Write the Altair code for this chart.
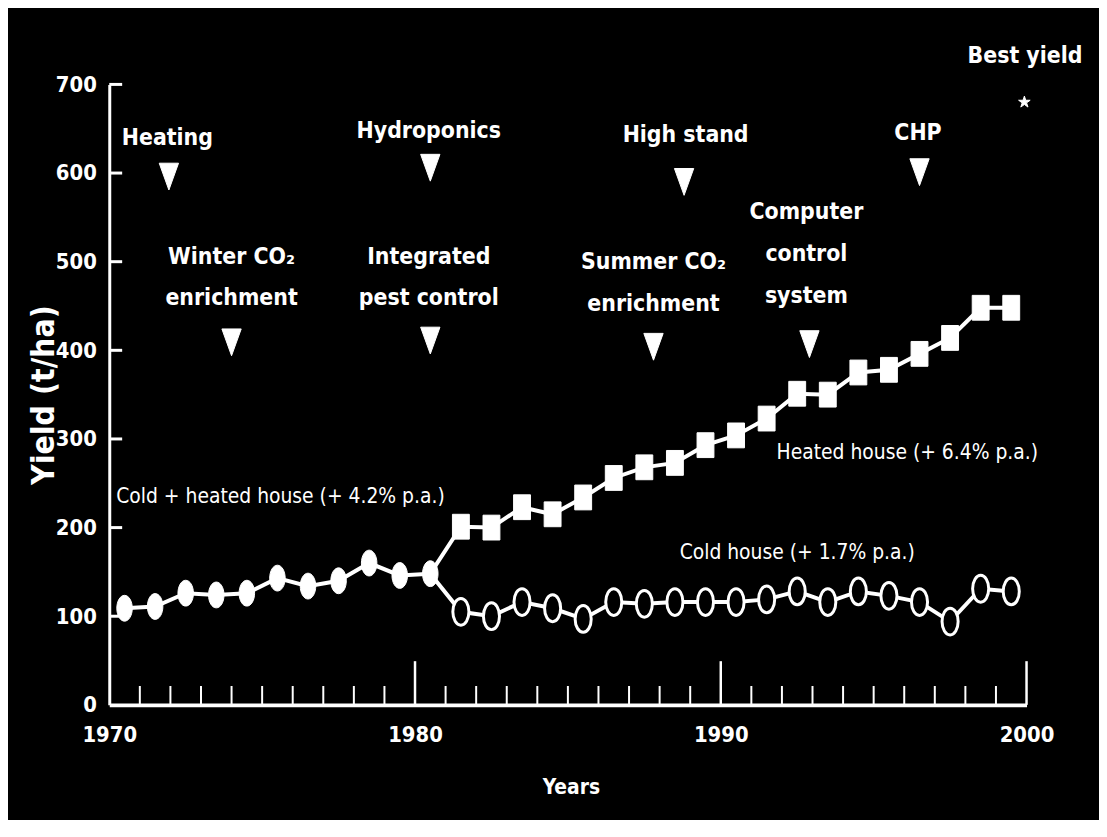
import altair as alt
import pandas as pd

# ---------------- data ----------------
early_years = [1970, 1971, 1972, 1973, 1974, 1975, 1976, 1977, 1978, 1979, 1980]
early_yield = [109, 111, 126, 124, 126, 143, 134, 140, 160, 146, 148]

late_years = [1981, 1982, 1983, 1984, 1985, 1986, 1987, 1988, 1989, 1990,
              1991, 1992, 1993, 1994, 1995, 1996, 1997, 1998, 1999]
heated_yield = [201, 200, 223, 215, 234, 256, 268, 273, 293, 304,
                323, 351, 350, 375, 378, 396, 414, 448, 448]
cold_yield = [105, 100, 116, 109, 97, 116, 114, 116, 116, 116,
              119, 128, 116, 128, 123, 116, 94, 131, 128]

event_text = ["Heating", "Winter CO\u2082\nenrichment", "Hydroponics",
              "Integrated\npest control", "High stand",
              "Summer CO\u2082\nenrichment", "Computer\ncontrol\nsystem", "CHP"]
event_label_x = [1971.9, 1974.0, 1980.45, 1980.45, 1988.85, 1987.8, 1992.8, 1996.45]
event_label_y = [652, 518, 660, 518, 655, 512, 568, 657]
event_marker_x = [1971.95, 1974.0, 1980.5, 1980.5, 1988.8, 1987.8, 1992.9, 1996.5]
event_marker_y = [596, 409, 606, 411, 590, 404, 407, 601]

series_text = ["Cold + heated house (+ 4.2% p.a.)", "Heated house (+ 6.4% p.a.)",
               "Cold house (+ 1.7% p.a.)"]
series_label_x = [1975.6, 1996.1, 1992.5]
series_label_y = [235, 284, 171]

best_text = ["Best yield"]
best_label_x = [1999.95]
best_label_y = [732]
best_marker_x = [1999.93]
best_marker_y = [680]

x_tick_labels = [1970, 1980, 1990, 2000]
y_tick_labels = [0, 100, 200, 300, 400, 500, 600, 700]
minor_tick_years = [y for y in range(1971, 2000) if y % 10 != 0]
major_tick_years = [1980, 1990, 2000]
y_tick_values = [100, 200, 300, 400, 500, 600, 700]

# ---------------- tables ----------------
early_df = pd.DataFrame({"year": early_years, "yield": early_yield})
heated_df = pd.DataFrame({"year": late_years, "yield": heated_yield})
cold_df = pd.DataFrame({"year": late_years, "yield": cold_yield})
for d in (early_df, heated_df, cold_df):
    d["x"] = d["year"] + 0.5  # yields plotted at mid-season

last_early = early_df.tail(1)
lines_df = pd.concat([
    early_df.assign(series="early"),
    pd.concat([last_early, heated_df]).assign(series="heated"),
    pd.concat([last_early, cold_df]).assign(series="cold"),
], ignore_index=True)

events_df = pd.DataFrame({"text": event_text, "x": event_label_x, "y": event_label_y})
markers_df = pd.DataFrame({"x": event_marker_x, "y": event_marker_y})
series_df = pd.DataFrame({"text": series_text, "x": series_label_x, "y": series_label_y})
best_lbl_df = pd.DataFrame({"text": best_text, "x": best_label_x, "y": best_label_y})
best_pt_df = pd.DataFrame({"x": best_marker_x, "y": best_marker_y})
minor_df = pd.DataFrame({"x": minor_tick_years})
major_df = pd.DataFrame({"x": major_tick_years})
ytick_df = pd.DataFrame({"y": y_tick_values})

# ---------------- style ----------------
W, H = 924, 625
FONT = "Liberation Sans Narrow, DejaVu Sans Condensed, Liberation Sans, sans-serif"
WHITE = "#ffffff"
ELLIPSE = "M0,-1 A0.6,1 0 1,1 0,1 A0.6,1 0 1,1 0,-1 Z"
RECT = "M-0.68,-1 L0.68,-1 L0.68,1 L-0.68,1 Z"
TRI = "M-0.72,-1 L0.72,-1 L0,1 Z"
STAR = ("M0,-1 L0.22,-0.31 L0.95,-0.31 L0.36,0.12 L0.59,0.81 L0,0.38 "
        "L-0.59,0.81 L-0.36,0.12 L-0.95,-0.31 L-0.22,-0.31 Z")

xs = alt.Scale(domain=[1970, 2000], nice=False, zero=False)
ys = alt.Scale(domain=[0, 700], nice=False, zero=False)

x_axis = alt.Axis(values=x_tick_labels, format="d", title="Years", ticks=False,
                  grid=False, domainColor=WHITE, domainWidth=4, labelColor=WHITE,
                  labelFont=FONT, labelFontSize=22, labelFontWeight="bold",
                  labelPadding=20, labelFlush=False, labelOverlap=False,
                  titleColor=WHITE, titleFont=FONT, titleFontSize=21,
                  titleFontWeight="bold", titleX=W / 2 + 3, titleY=83,
                  titleBaseline="middle")
y_axis = alt.Axis(values=y_tick_labels, format="d", title="Yield (t/ha)", ticks=False,
                  grid=False, domainColor=WHITE, domainWidth=3, labelColor=WHITE,
                  labelFont=FONT, labelFontSize=22, labelFontWeight="bold",
                  labelPadding=13, labelOverlap=False, labelFlush=False,
                  titleColor=WHITE, titleFont=FONT,
                  titleFontSize=32, titleFontWeight="bold", titleX=-66,
                  titleY=H / 2, titleAngle=270, titleAlign="center",
                  titleBaseline="middle")


def X(f):
    return alt.X(f, type="quantitative", scale=xs, axis=x_axis)


def Y(f):
    return alt.Y(f, type="quantitative", scale=ys, axis=y_axis)


lines = alt.Chart(lines_df).mark_line(color=WHITE, strokeWidth=4).encode(
    x=X("x"), y=Y("yield"), detail="series:N", order="x:Q",
)

early_pts = alt.Chart(early_df).mark_point(
    shape=ELLIPSE, filled=True, fill=WHITE, stroke=WHITE, strokeWidth=1,
    size=676, opacity=1).encode(x=X("x"), y=Y("yield"))
heated_pts = alt.Chart(heated_df).mark_point(
    shape=RECT, filled=True, fill=WHITE, stroke=WHITE, strokeWidth=1,
    size=625, opacity=1).encode(x=X("x"), y=Y("yield"))
cold_pts = alt.Chart(cold_df).mark_point(
    shape=ELLIPSE, filled=True, fill="#000000", stroke=WHITE, strokeWidth=3,
    size=729, opacity=1).encode(x=X("x"), y=Y("yield"))

minor_ticks = alt.Chart(minor_df).mark_rule(color=WHITE, strokeWidth=2).encode(
    x=X("x"), y=alt.value(H), y2=alt.value(H - 19))
major_ticks = alt.Chart(major_df).mark_rule(color=WHITE, strokeWidth=2.5).encode(
    x=X("x"), y=alt.value(H), y2=alt.value(H - 44))
y_ticks = alt.Chart(ytick_df).mark_rule(color=WHITE, strokeWidth=3).encode(
    y=Y("y"), x=alt.value(0), x2=alt.value(13))

event_tri = alt.Chart(markers_df).mark_point(
    shape=TRI, filled=True, fill=WHITE, stroke=WHITE, strokeWidth=1,
    size=729, opacity=1).encode(x=X("x"), y=Y("y"))
event_lbl = alt.Chart(events_df).mark_text(
    color=WHITE, font=FONT, fontSize=23, fontWeight="bold", align="center",
    baseline="top", lineBreak="\n", lineHeight=42).encode(
    x=X("x"), y=Y("y"), text="text:N")

series_lbl = alt.Chart(series_df).mark_text(
    color=WHITE, font=FONT, fontSize=21, fontWeight="normal", align="center",
    baseline="middle").encode(x=X("x"), y=Y("y"), text="text:N")

best_lbl = alt.Chart(best_lbl_df).mark_text(
    color=WHITE, font=FONT, fontSize=23, fontWeight="bold", align="center",
    baseline="middle").encode(x=X("x"), y=Y("y"), text="text:N")
best_star = alt.Chart(best_pt_df).mark_point(
    shape=STAR, filled=True, fill=WHITE, stroke=WHITE, strokeWidth=1,
    size=150, opacity=1).encode(x=X("x"), y=Y("y"))

chart = alt.layer(
    lines, minor_ticks, major_ticks, y_ticks, early_pts, heated_pts, cold_pts,
    event_tri, event_lbl, series_lbl, best_lbl, best_star,
).properties(
    width=W, height=H, background="#000000",
    padding={"left": 102, "top": 74, "right": 73, "bottom": 113},
    autosize=alt.AutoSizeParams(type="none"),
).configure_view(stroke=None)

chart.save("out.html", embed_options={"renderer": "svg", "actions": False})
